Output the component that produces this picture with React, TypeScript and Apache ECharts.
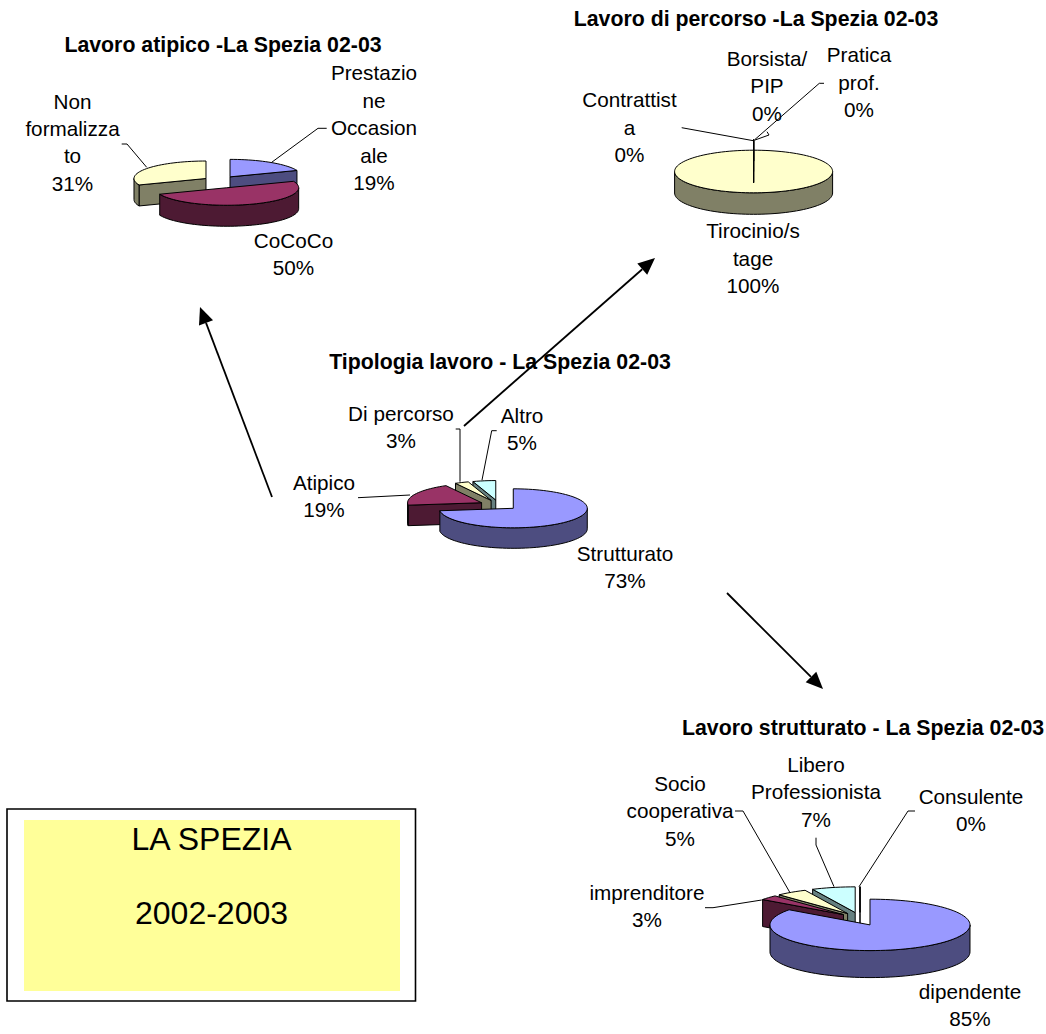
import React, { useEffect, useRef } from "react";
import * as echarts from "echarts";

// ---------- data ----------
const atipicoNames = ["Prestazio\nne\nOccasion\nale", "CoCoCo", "Non\nformalizza\nto"];
const atipicoValues = [19, 50, 31];
const percorsoNames = ["Tirocinio/s\ntage", "Contrattist\na", "Borsista/\nPIP", "Pratica\nprof."];
const percorsoValues = [100, 0, 0, 0];
const tipologiaNames = ["Strutturato", "Atipico", "Di percorso", "Altro"];
const tipologiaValues = [73, 19, 3, 5];
const strutturatoNames = ["dipendente", "imprenditore", "Socio\ncooperativa", "Libero\nProfessionista", "Consulente"];
const strutturatoValues = [85, 3, 5, 7, 0];

const titleAtipico = "Lavoro atipico -La Spezia 02-03";
const titlePercorso = "Lavoro di percorso -La Spezia 02-03";
const titleTipologia = "Tipologia lavoro - La Spezia 02-03";
const titleStrutturato = "Lavoro strutturato - La Spezia 02-03";
const boxLines = ["LA SPEZIA", "2002-2003"];

// ---------- styling / layout ----------
const topColors = ["#9999FF", "#993366", "#FFFFCC", "#CCFFFF", "#660066"];
const sideColors = ["#4D4D80", "#4D1A33", "#808066", "#668080", "#330033"];
const percorsoTop = ["#FFFFCC", "#CCFFFF", "#660066", "#FF8080"];
const percorsoSide = ["#808066", "#668080", "#330033", "#804040"];
const FONT = '"Liberation Sans", Arial, sans-serif';
const LINE = 27.4;

type Pie = {
  values: number[]; names: string[]; cx: number; cy: number; rx: number; ry: number; h: number;
  ex: number; ey: number; zeroOnTop?: boolean; top?: string[]; side?: string[];
  title: string; titleAt: number[]; labelAt: number[][]; leaders: number[][][];
};

const pies: Pie[] = [
  {
    values: atipicoValues, names: atipicoNames, cx: 220.3, cy: 182, rx: 72, ry: 17.5, h: 21, ex: 17.3, ey: 6.2,
    title: titleAtipico, titleAt: [223, 45],
    labelAt: [[374, 127.7], [293.5, 254.2], [72.5, 142.2]],
    leaders: [
      [[326.7, 128.3], [318, 128.3], [271.7, 162.3]],
      [[121.7, 144], [127, 144], [146.7, 167.3]],
    ],
  },
  {
    values: percorsoValues, names: percorsoNames, cx: 753.6, cy: 166.3, rx: 79, ry: 21.3, h: 21.5, ex: 19, ey: 5.2,
    zeroOnTop: true, top: percorsoTop, side: percorsoSide,
    title: titlePercorso, titleAt: [756, 19],
    labelAt: [[753, 258.2], [629.5, 127.2], [767, 85.7], [859, 82.2]],
    leaders: [
      [[681.7, 127.7], [753.3, 140.7]],
      [[824, 83.3], [819.3, 83.3], [754.3, 140]],
      [[755, 140], [769, 135], [767, 131.7]],
    ],
  },
  {
    values: tipologiaValues, names: tipologiaNames, cx: 498.8, cy: 505, rx: 74, ry: 19.5, h: 20.5, ex: 19.3, ey: 5,
    title: titleTipologia, titleAt: [500, 362],
    labelAt: [[625, 566.7], [324, 496.2], [401, 427.2], [522, 428.7]],
    leaders: [
      [[358, 497.7], [410, 495]],
      [[455.7, 429], [460, 429], [460, 481.7]],
      [[496.7, 430.7], [491.7, 430.7], [482, 480]],
    ],
  },
  {
    values: strutturatoValues, names: strutturatoNames, cx: 860, cy: 919, rx: 100, ry: 25.7, h: 27, ex: 22, ey: 6.6,
    title: titleStrutturato, titleAt: [863, 728],
    labelAt: [[970, 1004.7], [647, 905.7], [680, 810.7], [816, 791.7], [971, 809.7]],
    leaders: [
      [[705, 907.7], [713, 907.7], [761.7, 900]],
      [[735, 811], [743, 811], [790, 892.7]],
      [[816, 837.7], [816, 845], [834, 886.7]],
      [[915, 811], [908, 811], [859, 886.7]],
    ],
  },
];

const arrows = [
  [[272, 497], [200, 307]],
  [[464, 426], [655, 258]],
  [[727, 593], [823, 689]],
];

// ---------- geometry ----------
const rad = (d: number) => (d * Math.PI) / 180;

function rim(ax: number, ay: number, p: Pie, a: number) {
  return [ax + p.rx * Math.sin(rad(a)), ay - p.ry * Math.cos(rad(a))];
}
function arc(ax: number, ay: number, p: Pie, a1: number, a2: number) {
  const n = Math.max(1, Math.ceil((a2 - a1) / 3));
  const out: number[][] = [];
  for (let i = 0; i <= n; i++) out.push(rim(ax, ay, p, a1 + ((a2 - a1) * i) / n));
  return out;
}

function sliceRows(p: Pie) {
  const total = p.values.reduce((s, v) => s + v, 0);
  let acc = 0;
  const rows = p.values.map((v, i) => {
    const a1 = (acc / total) * 360;
    acc += v;
    const a2 = (acc / total) * 360;
    const mid = (a1 + a2) / 2;
    const ax = p.cx + p.ex * Math.sin(rad(mid));
    const ay = p.cy - p.ey * Math.cos(rad(mid));
    return { value: [v, a1, a2, ax, ay, i] };
  });
  rows.sort((a, b) => {
    if (p.zeroOnTop) {
      const za = a.value[0] === 0 ? 1 : 0;
      const zb = b.value[0] === 0 ? 1 : 0;
      if (za !== zb) return za - zb;
    }
    return a.value[4] - b.value[4];
  });
  return rows;
}

function makeSeries(p: Pie) {
  const tops = p.top || topColors;
  const sides = p.side || sideColors;
  return {
    type: "custom",
    coordinateSystem: "none",
    silent: true,
    data: sliceRows(p),
    renderItem: (_: any, api: any) => {
      const v = api.value(0);
      const a1 = api.value(1);
      const a2 = api.value(2);
      const ax = api.value(3);
      const ay = api.value(4);
      const idx = api.value(5);
      const style = (fill: string) => ({ fill, stroke: "#000", lineWidth: 1, lineJoin: "round" });
      const children: any[] = [];
      const down = (pt: number[]) => [pt[0], pt[1] + p.h];
      const wall = (a: number) => {
        const r = rim(ax, ay, p, a);
        children.push({
          type: "polygon",
          shape: { points: [[ax, ay], r, down(r), [ax, ay + p.h]] },
          style: style(sides[idx]),
        });
      };
      if (v === 0) {
        wall(a1);
      } else {
        if (a1 > 180 && a1 < 360) wall(a1);
        if (a2 > 0 && a2 < 180) wall(a2);
        const f1 = Math.max(a1, 90);
        const f2 = Math.min(a2, 270);
        if (f2 > f1) {
          const front = arc(ax, ay, p, f1, f2);
          children.push({
            type: "polygon",
            shape: { points: front.concat(front.slice().reverse().map(down)) },
            style: style(sides[idx]),
          });
        }
      }
      children.push({
        type: "polygon",
        shape: { points: [[ax, ay], ...arc(ax, ay, p, a1, a2)] },
        style: style(tops[idx]),
      });
      return { type: "group", children };
    },
  };
}

function textEl(text: string, x: number, y: number, size: number, bold = false, lineHeight = LINE) {
  return {
    type: "text",
    x,
    y,
    z: 20,
    silent: true,
    style: {
      text,
      fill: "#000",
      fontFamily: FONT,
      fontSize: size,
      fontWeight: bold ? "bold" : "normal",
      align: "center",
      verticalAlign: "middle",
      lineHeight,
    },
  };
}

function arrowEls(a: number[][]) {
  const [from, to] = a;
  const ang = Math.atan2(to[1] - from[1], to[0] - from[0]);
  const len = 17;
  const half = 7.5;
  const bx = to[0] - len * Math.cos(ang);
  const by = to[1] - len * Math.sin(ang);
  const nx = -Math.sin(ang) * half;
  const ny = Math.cos(ang) * half;
  return [
    {
      type: "line", z: 10, silent: true,
      shape: { x1: from[0], y1: from[1], x2: bx, y2: by },
      style: { stroke: "#000", lineWidth: 1.8 },
    },
    {
      type: "polygon", z: 10, silent: true,
      shape: { points: [to, [bx + nx, by + ny], [bx - nx, by - ny]] },
      style: { fill: "#000" },
    },
  ];
}

function buildGraphic() {
  const els: any[] = [];
  els.push({
    type: "rect", z: 1, silent: true,
    shape: { x: 7, y: 809, width: 408.5, height: 192 },
    style: { fill: "#fff", stroke: "#000", lineWidth: 1.6 },
  });
  els.push({
    type: "rect", z: 2, silent: true,
    shape: { x: 24, y: 820, width: 376, height: 171 },
    style: { fill: "#FFFF99" },
  });
  els.push(textEl(boxLines[0], 211.5, 839, 32, false, 36));
  els.push(textEl(boxLines[1], 211.5, 913, 32, false, 36));
  arrows.forEach((a) => els.push(...arrowEls(a)));
  pies.forEach((p) => {
    p.leaders.forEach((pts) =>
      els.push({
        type: "polyline", z: 15, silent: true,
        shape: { points: pts },
        style: { stroke: "#000", lineWidth: 1, fill: "none" },
      })
    );
    els.push(textEl(p.title, p.titleAt[0], p.titleAt[1], 21.3, true, 24));
    p.names.forEach((name, i) => {
      els.push(textEl(`${name}\n${p.values[i]}%`, p.labelAt[i][0], p.labelAt[i][1], 20.7));
    });
  });
  return { elements: els };
}

export default function App() {
  const ref = useRef<HTMLDivElement>(null);
  useEffect(() => {
    const chart = echarts.init(ref.current!, null, { renderer: "svg" });
    chart.setOption({
      animation: false,
      backgroundColor: "#fff",
      series: pies.map(makeSeries),
      graphic: buildGraphic(),
    });
    return () => chart.dispose();
  }, []);
  return (
    <div
      ref={ref}
      style={{ position: "fixed", left: 0, top: 0, width: 1046, height: 1034 }}
    />
  );
}
